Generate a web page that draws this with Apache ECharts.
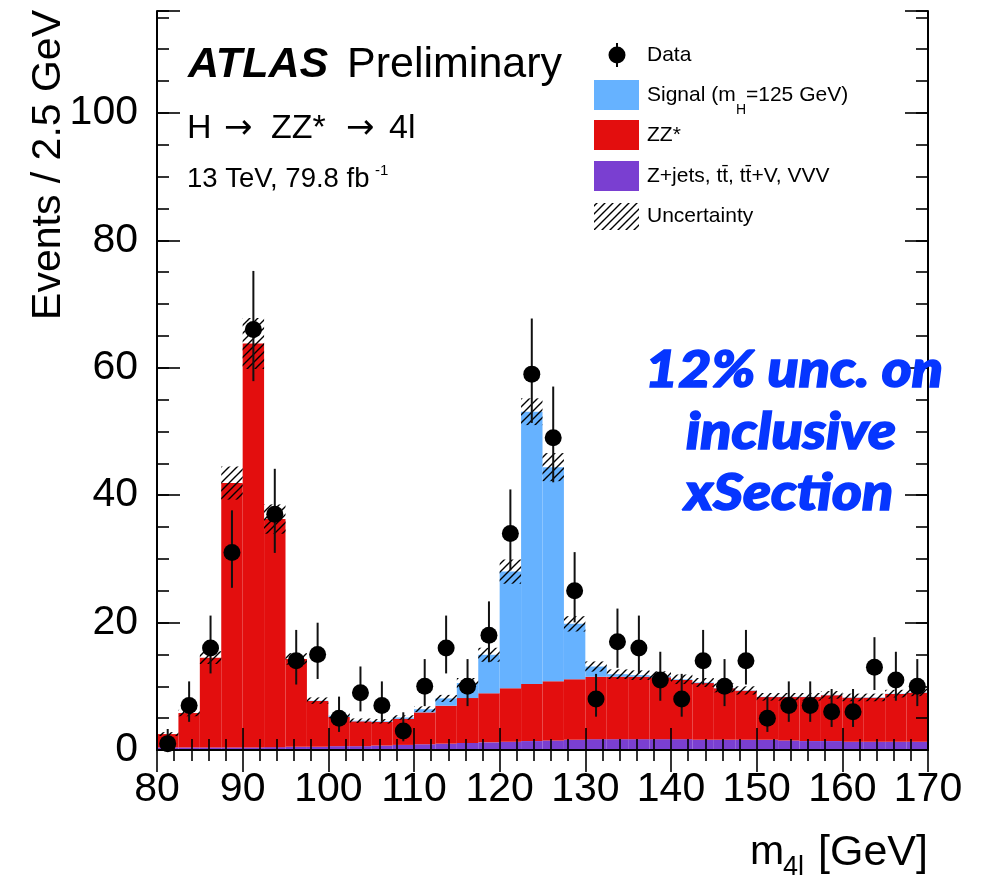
<!DOCTYPE html>
<html>
<head>
<meta charset="utf-8">
<script src="https://cdn.jsdelivr.net/npm/echarts@6/dist/echarts.min.js"></script>
<style>
html,body{margin:0;padding:0;background:#fff;}
#chart{width:999px;height:882px;}
</style>
</head>
<body>
<div id="chart"></div>
<script>
// ---- data ----
const binLow = [80,82.5,85,87.5,90,92.5,95,97.5,100,102.5,105,107.5,110,112.5,115,117.5,120,122.5,125,127.5,130,132.5,135,137.5,140,142.5,145,147.5,150,152.5,155,157.5,160,162.5,165,167.5];
const binWidth = 2.5;
const otherBkg = [0.4,0.4,0.4,0.4,0.4,0.45,0.5,0.5,0.6,0.6,0.7,0.8,0.9,1.0,1.1,1.2,1.3,1.4,1.5,1.6,1.7,1.7,1.7,1.7,1.7,1.6,1.6,1.6,1.6,1.5,1.4,1.4,1.3,1.3,1.3,1.3];
const zzBkg = [2.1,5.4,14.1,41.5,63.4,35.8,13.8,7.2,4.6,3.9,3.7,4.1,5.0,5.95,7.05,7.7,8.4,8.95,9.3,9.5,9.8,9.8,9.8,9.7,9.3,8.9,8.1,7.7,6.7,6.8,6.9,7.2,6.9,6.9,7.5,7.7];
const signal = [0,0,0,0,0,0,0,0.05,0.2,0.1,0.1,0.2,0.5,1.15,2.35,6.05,18.3,42.75,33.6,8.7,1.6,0.4,0.25,0.2,0.1,0.1,0.05,0.05,0.05,0.05,0.05,0.05,0.05,0.05,0.05,0.05];
const uncertainty = [0.3,0.5,1.0,2.6,4.0,2.3,0.9,0.5,0.4,0.35,0.35,0.35,0.45,0.55,0.8,1.1,1.9,2.1,2.2,1.2,0.8,0.75,0.75,0.75,0.75,0.7,0.7,0.65,0.6,0.6,0.6,0.6,0.6,0.6,0.6,0.6];
const dataCounts = [1,7,16,31,66,37,14,15,5,9,7,3,10,16,10,18,34,59,49,25,8,17,16,11,8,14,10,14,5,7,7,6,6,13,11,10];
const dataErrLow = [0.83,2.58,3.98,5.54,8.1,6.06,3.72,3.85,2.16,2.94,2.58,1.63,3.11,3.98,3.11,4.22,5.8,7.66,6.98,4.97,2.77,4.1,3.98,3.27,2.77,3.72,3.11,3.72,2.16,2.58,2.58,2.38,2.38,3.58,3.27,3.11];
const dataErrHigh = [2.3,3.77,5.1,6.62,9.2,7.14,4.85,4.98,3.38,4.11,3.77,2.92,4.27,5.1,4.27,5.33,6.9,8.73,8.05,6.06,3.95,5.2,5.1,4.42,3.95,4.85,4.27,4.85,3.38,3.77,3.77,3.58,3.58,4.71,4.42,4.27];
const xTicks = {min: 80, max: 170, step: 10};
const yTicks = {min: 0, max: 116, step: 20, minorStep: 5};

// ---- styles ----
const C_SIG = '#66b2ff', C_ZZ = '#e30e0e', C_OTH = '#7a3fd1', C_TXT = '#0636ff';
const FONT = '"Liberation Sans", Arial, Helvetica, sans-serif';

function hatchPattern() {
  const c = document.createElement('canvas');
  c.width = 8; c.height = 8;
  const g = c.getContext('2d');
  g.strokeStyle = '#000'; g.lineWidth = 1.4;
  g.beginPath();
  g.moveTo(-2, 10); g.lineTo(10, -2);
  g.moveTo(-2, 2); g.lineTo(2, -2);
  g.moveTo(6, 10); g.lineTo(10, 6);
  g.stroke();
  return {type: 'pattern', image: c, repeat: 'repeat'};
}
const HATCH = hatchPattern();

const histOther = [], histZZ = [], histSig = [], histUnc = [], points = [], errBars = [];
binLow.forEach((lo, i) => {
  const hi = lo + binWidth;
  const a = otherBkg[i], b = a + zzBkg[i], t = b + signal[i];
  histOther.push([lo, hi, 0, a]);
  histZZ.push([lo, hi, a, b]);
  histSig.push([lo, hi, b, t]);
  histUnc.push([lo, hi, t - uncertainty[i], t + uncertainty[i]]);
  const xc = lo + binWidth / 2;
  points.push([xc, dataCounts[i]]);
  errBars.push([xc, dataCounts[i] - dataErrLow[i], dataCounts[i] + dataErrHigh[i]]);
});

function rectRenderer(fill) {
  return function (params, api) {
    const p0 = api.coord([api.value(0), api.value(2)]);
    const p1 = api.coord([api.value(1), api.value(3)]);
    return {type: 'rect', shape: {x: p0[0], y: p1[1], width: p1[0] - p0[0], height: p0[1] - p1[1]},
      style: {fill: fill}};
  };
}
function errRenderer(params, api) {
  const lo = api.coord([api.value(0), api.value(1)]);
  const hi = api.coord([api.value(0), api.value(2)]);
  return {type: 'line', shape: {x1: lo[0], y1: lo[1], x2: hi[0], y2: hi[1]},
    style: {stroke: '#111', lineWidth: 2}};
}

const axLine = {show: true, lineStyle: {color: '#000', width: 2}};
function xAx(pos, labels) {
  return {type: 'value', position: pos, min: xTicks.min, max: xTicks.max, interval: xTicks.step, z: 10,
    axisLine: axLine, splitLine: {show: false},
    axisTick: {show: true, inside: true, length: 22, lineStyle: {color: '#000', width: 1.6}},
    minorTick: {show: true, splitNumber: 5, length: 11, lineStyle: {color: '#000', width: 1.6}},
    axisLabel: labels ? {show: true, fontSize: 41, fontFamily: FONT, color: '#000', margin: 19} : {show: false}};
}
function yAx(pos, step, len, labels, line) {
  return {type: 'value', position: pos, min: yTicks.min, max: yTicks.max, interval: step, z: 10,
    axisLine: line ? axLine : {show: false}, splitLine: {show: false},
    axisTick: {show: true, inside: true, length: len, lineStyle: {color: '#000', width: 1.6}},
    axisLabel: labels ? {show: true, fontSize: 41, fontFamily: FONT, color: '#000', margin: 19,
      formatter: v => (v % yTicks.step === 0 ? String(v) : '')} : {show: false}};
}

function txt(text, x, y, size, opts) {
  opts = opts || {};
  const el = {type: 'text', x: x, y: y, rotation: opts.rotation || 0, z: 100,
    style: {text: text, fill: opts.color || '#000',
      font: (opts.style || '') + ' ' + (opts.weight || 'normal') + ' ' + size + 'px ' + (opts.family || FONT),
      textAlign: opts.align || 'left', textVerticalAlign: 'middle'}};
  if (opts.scaleX) el.scaleX = opts.scaleX;
  if (opts.stroke) { el.style.stroke = opts.stroke; el.style.lineWidth = opts.lineWidth || 1; }
  return el;
}
const blueOpts = (align) => ({align: align, style: 'italic', weight: '900', family: 'Lato, sans-serif',
  color: C_TXT, stroke: C_TXT, lineWidth: 1.6, scaleX: 1.1});

const graphics = [
  // axis titles
  txt('Events / 2.5 GeV', 49, 10, 41, {align: 'right', rotation: Math.PI / 2}),
  txt('m', 750, 853, 41),
  txt('4l', 783, 868, 27),
  txt('[GeV]', 928, 853, 43, {align: 'right'}),
  // labels
  txt('ATLAS', 188, 65, 43, {style: 'italic', weight: 'bold'}),
  txt('Preliminary', 347, 65, 43),
  txt('H', 187, 129, 34),
  txt('\u2192', 224, 129, 34, {family: '"DejaVu Sans", sans-serif'}),
  txt('ZZ*', 271, 129, 34),
  txt('\u2192', 346, 129, 34, {family: '"DejaVu Sans", sans-serif'}),
  txt('4l', 389, 129, 34),
  txt('13 TeV, 79.8 fb', 187, 179, 27.5),
  txt('-1', 375, 171, 15),
  // blue annotation
  txt('12% unc. on', 794, 370, 52, blueOpts('center')),
  txt('inclusive', 791, 432, 52, blueOpts('center')),
  txt('xSection', 789, 493, 52, blueOpts('center')),
  // legend
  {type: 'line', shape: {x1: 617, y1: 43, x2: 617, y2: 67}, style: {stroke: '#000', lineWidth: 2}, z: 100},
  {type: 'circle', shape: {cx: 617, cy: 55, r: 8.5}, style: {fill: '#000'}, z: 100},
  txt('Data', 647, 55, 21),
  {type: 'rect', shape: {x: 594, y: 80, width: 45, height: 30}, style: {fill: C_SIG}, z: 100},
  txt('Signal (m', 647, 95, 21),
  txt('H', 736, 110, 14),
  txt('=125 GeV)', 746, 95, 21),
  {type: 'rect', shape: {x: 594, y: 120, width: 45, height: 30}, style: {fill: C_ZZ}, z: 100},
  txt('ZZ*', 647, 135, 21),
  {type: 'rect', shape: {x: 594, y: 161, width: 45, height: 30}, style: {fill: C_OTH}, z: 100},
  txt('Z+jets, tt\u0304, tt\u0304+V, VVV', 647, 176, 21),
  {type: 'rect', shape: {x: 594, y: 203, width: 45, height: 27}, style: {fill: HATCH}, z: 100},
  txt('Uncertainty', 647, 216, 21)
];

const chart = echarts.init(document.getElementById('chart'), null, {renderer: 'canvas'});
chart.setOption({
  animation: false,
  backgroundColor: '#fff',
  grid: {left: 157, right: 71, top: 11, bottom: 132, containLabel: false},
  xAxis: [xAx('bottom', true), xAx('top', false)],
  yAxis: [yAx('left', yTicks.step, 23, true, true), yAx('left', yTicks.minorStep, 12, false, false),
          yAx('right', yTicks.step, 23, false, true), yAx('right', yTicks.minorStep, 12, false, false)],
  series: [
    {type: 'custom', name: 'Z+jets', renderItem: rectRenderer(C_OTH), data: histOther, z: 2, silent: true},
    {type: 'custom', name: 'ZZ*', renderItem: rectRenderer(C_ZZ), data: histZZ, z: 2, silent: true},
    {type: 'custom', name: 'Signal', renderItem: rectRenderer(C_SIG), data: histSig, z: 2, silent: true},
    {type: 'custom', name: 'Uncertainty', renderItem: rectRenderer(HATCH), data: histUnc, z: 3, silent: true},
    {type: 'custom', name: 'DataErr', renderItem: errRenderer, data: errBars, z: 4, silent: true},
    {type: 'scatter', name: 'Data', data: points, symbol: 'circle', symbolSize: 17,
      itemStyle: {color: '#000', opacity: 1}, z: 5, silent: true}
  ],
  graphic: graphics
});
</script>
</body>
</html>
